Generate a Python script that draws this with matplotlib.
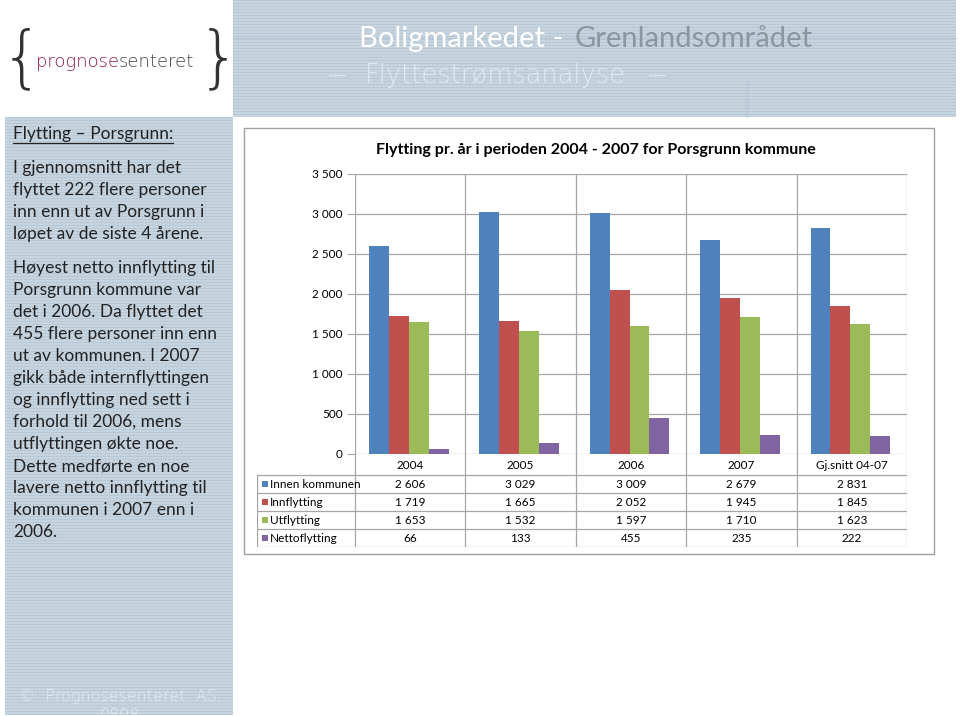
import numpy as np
import matplotlib
matplotlib.use("Agg")
import matplotlib.pyplot as plt
import matplotlib.patches as patches

categories = ["2004", "2005", "2006", "2007", "Gj.snitt 04-07"]
series_names = ["Innen kommunen", "Innflytting", "Utflytting", "Nettoflytting"]
innen_kommunen = [2606, 3029, 3009, 2679, 2831]
innflytting = [1719, 1665, 2052, 1945, 1845]
utflytting = [1653, 1532, 1597, 1710, 1623]
nettoflytting = [66, 133, 455, 235, 222]
y_ticks = [0, 500, 1000, 1500, 2000, 2500, 3000, 3500]

series = [innen_kommunen, innflytting, utflytting, nettoflytting]
colors = ["#4f81bd", "#c0504d", "#9bbb59", "#8064a2"]
grid_color = "#a6a6a6"
panel_text = "#222222"
FONT = "Lato"

W, H = 960, 716
fig = plt.figure(figsize=(9.6, 7.16), dpi=100)
bg = fig.add_axes([0, 0, 1, 1])
bg.axis('off')


def px_axes(x0, y0, x1, y1):
    return fig.add_axes([x0 / W, 1 - y1 / H, (x1 - x0) / W, (y1 - y0) / H])


def fmt(v):
    return f"{v:,}".replace(",", " ")


# textured slide panels
def panel(x0, y0, x1, y1):
    h, w = int(y1 - y0), int(x1 - x0)
    tex = np.ones((h, w, 3)) * np.array([199, 213, 224]) / 255
    tex[::3] = np.array([186, 201, 214]) / 255
    tex[:, ::4] = tex[:, ::4] * 0.985
    bg.imshow(tex, extent=(x0, x1, y1, y0), interpolation='nearest', aspect='auto', zorder=0)


panel(233, 0, 956, 117)
panel(5, 117, 233, 715)
bg.plot([233, 956], [38, 38], color="#b3c3d0", lw=0.6, zorder=1)
bg.plot([747, 747], [80, 117], color="#b3c3d0", lw=0.6, zorder=1)
bg.set_xlim(0, W)
bg.set_ylim(H, 0)

# header
t1 = bg.text(359, 39, "Boligmarkedet - ", color="white", fontsize=21, family=FONT,
             va='center', ha='left', zorder=3)
bg.annotate("Grenlandsområdet", xy=(1, 0.5), xycoords=t1, xytext=(3, 0), textcoords='offset points',
            color="#8a96a2", fontsize=21, family=FONT, va='center', ha='left', zorder=3)
sub_color = "#e3eaf0"
bg.text(337, 76, "—", color=sub_color, fontsize=14, family="DejaVu Sans", fontweight='light',
        va='center', ha='center', zorder=3)
bg.text(365, 76, "Flyttestrømsanalyse", color=sub_color, fontsize=18.5, family="DejaVu Sans",
        fontweight='light', va='center', ha='left', zorder=3)
bg.text(657, 76, "—", color=sub_color, fontsize=14, family="DejaVu Sans", fontweight='light',
        va='center', ha='center', zorder=3)

# logo
bg.text(22, 60, "{", color="#333333", fontsize=48, family="DejaVu Sans", fontweight='light',
        va='center', ha='center', zorder=3)
bg.text(219, 60, "}", color="#333333", fontsize=48, family="DejaVu Sans", fontweight='light',
        va='center', ha='center', zorder=3)
l1 = bg.text(36, 62, "prognose", color="#8c1d40", fontsize=13, family="DejaVu Sans",
             fontweight='light', va='center', ha='left', zorder=3)
bg.annotate("senteret", xy=(1, 0.5), xycoords=l1, color="#444444", fontsize=13,
            family="DejaVu Sans", fontweight='light', va='center', ha='left', zorder=3)

# left panel text
head = bg.text(13, 134, "Flytting – Porsgrunn:", color=panel_text, fontsize=12.5, family=FONT,
               va='center', ha='left', zorder=3)
para1 = ["I gjennomsnitt har det", "flyttet 222 flere personer", "inn enn ut av Porsgrunn i",
         "løpet av de siste 4 årene."]
para2 = ["Høyest netto innflytting til", "Porsgrunn kommune var", "det i 2006. Da flyttet det",
         "455 flere personer inn enn", "ut av kommunen. I 2007", "gikk både internflyttingen",
         "og innflytting ned sett i", "forhold til 2006, mens", "utflyttingen økte noe.",
         "Dette medførte en noe", "lavere netto innflytting til", "kommunen i 2007 enn i", "2006."]
for i, line in enumerate(para1):
    bg.text(13, 168 + i * 22, line, color=panel_text, fontsize=12.5, family=FONT,
            va='center', ha='left', zorder=3)
for i, line in enumerate(para2):
    bg.text(13, 268 + i * 22, line, color=panel_text, fontsize=12.5, family=FONT,
            va='center', ha='left', zorder=3)

fig.canvas.draw()
bb = head.get_window_extent().transformed(bg.transData.inverted())
bg.plot([bb.x0, bb.x1], [143, 143], color=panel_text, lw=0.9, zorder=3)

# footer
bg.text(120, 697, "©  Prognosesenteret  AS,", color="#e6edf2", fontsize=11.5, family="DejaVu Sans",
        fontweight='light', va='center', ha='center', zorder=3)
bg.text(120, 716, "0808", color="#e6edf2", fontsize=11.5, family="DejaVu Sans",
        fontweight='light', va='center', ha='center', zorder=3)

# chart frame and title
bg.add_patch(patches.Rectangle((244, 128), 690, 426, facecolor='white', edgecolor="#a0a0a0",
                               lw=1, zorder=2))
bg.text(596, 150, "Flytting pr. år i perioden 2004 - 2007 for Porsgrunn kommune", color="black",
        fontsize=11.5, family=FONT, fontweight='bold', va='center', ha='center', zorder=3)

# bar chart
ax = px_axes(355, 174, 907, 454)
n = len(categories)
x = np.arange(n)
bw = 0.18
for j, (vals, c) in enumerate(zip(series, colors)):
    ax.bar(x + 0.127 + j * bw, vals, width=bw, align='edge', color=c, zorder=3, lw=0)
ax.set_xlim(0, n)
ax.set_ylim(0, 3500)
ax.set_yticks(y_ticks)
ax.set_yticklabels([fmt(v) for v in y_ticks], fontsize=8.5, family=FONT)
ax.set_xticks([])
for v in y_ticks:
    ax.axhline(v, color=grid_color, lw=0.9, zorder=1)
for i in range(n + 1):
    ax.axvline(i, color=grid_color, lw=0.9, zorder=1)
for s in ax.spines.values():
    s.set_visible(False)
ax.tick_params(axis='y', length=6, color=grid_color, pad=3)
ax.patch.set_alpha(0)

# data table under the chart
cw = (907 - 355) / n
lw_units = (355 - 257) / cw
tab = px_axes(257, 454, 907, 547)
tab.set_xlim(-lw_units, n)
tab.set_ylim(93, 0)
tab.axis('off')
rows = [0, 21, 39, 57, 75, 93]
for i in range(n + 1):
    tab.plot([i, i], [0, 93], color=grid_color, lw=0.9)
tab.plot([-lw_units, -lw_units], [21, 93], color=grid_color, lw=0.9)
for r in rows[1:]:
    tab.plot([-lw_units, n], [r, r], color=grid_color, lw=0.9)
for i, cat in enumerate(categories):
    tab.text(i + 0.5, 11.5, cat, ha='center', va='center', fontsize=8.5, family=FONT)
sq = 6 / cw
for k, (name, vals, c) in enumerate(zip(series_names, series, colors)):
    yc = (rows[k + 1] + rows[k + 2]) / 2
    tab.add_patch(patches.Rectangle((-lw_units + 5 / cw, yc - 3), sq, 6, facecolor=c, lw=0))
    tab.text(-lw_units + 13 / cw, yc, name, ha='left', va='center', fontsize=8.5, family=FONT)
    for i, v in enumerate(vals):
        tab.text(i + 0.5, yc, fmt(v), ha='center', va='center', fontsize=8.5, family=FONT)

fig.savefig("out.png", dpi=100)
